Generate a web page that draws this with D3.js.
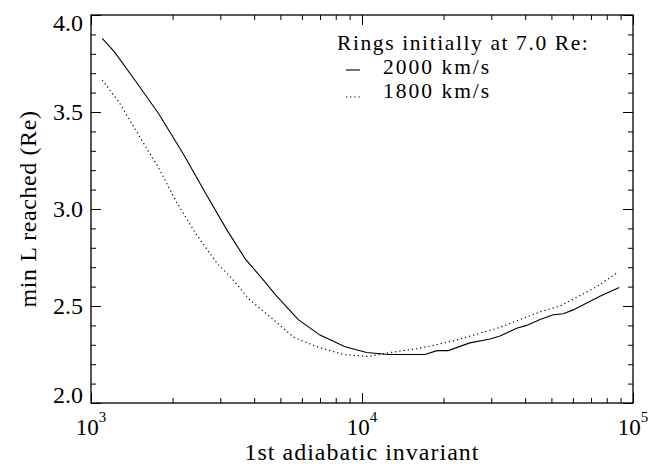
<!DOCTYPE html>
<html>
<head>
<meta charset="utf-8">
<script src="https://cdn.jsdelivr.net/npm/d3@7"></script>
<style>
	body { margin: 0; background: #fff; }
	svg { display: block; }
	text { font-family: 'Liberation Serif', 'Times New Roman', serif; fill: #000; }
</style>
</head>
<body>
<div id="chart"></div>
<script>
// first adiabatic invariant (x) and min L reached, rings starting at 7.0 Re
var mu2000 = [1100, 1220, 1460, 1780, 2200, 2650, 3180, 3720, 4290, 4780, 5820, 7000, 8660, 10400, 12500,
	17100, 18900, 20800, 25000, 29700, 32300, 37200, 40500, 45400, 50800, 55300, 60200, 67500, 75500, 89000];
var minL2000 = [3.88, 3.81, 3.66, 3.49, 3.28, 3.08, 2.89, 2.74, 2.64, 2.56, 2.43, 2.35, 2.29, 2.26, 2.25,
	2.25, 2.27, 2.27, 2.31, 2.33, 2.345, 2.385, 2.40, 2.43, 2.455, 2.46, 2.48, 2.515, 2.55, 2.595];

var mu1800 = [1100, 1270, 1500, 1780, 2050, 2430, 2920, 3320, 3860, 4580, 5580, 6810, 8530, 10550, 12700,
	16800, 22400, 32300, 38300, 45400, 53800, 62000, 73500, 88300];
var minL1800 = [3.665, 3.55, 3.38, 3.21, 3.045, 2.875, 2.72, 2.64, 2.53, 2.445, 2.34, 2.29, 2.25, 2.24, 2.26,
	2.285, 2.325, 2.39, 2.43, 2.47, 2.50, 2.545, 2.60, 2.675];

var xMajor = [1e3, 1e4, 1e5];
var yMajor = [2.0, 2.5, 3.0, 3.5, 4.0];
var legendTitle = 'Rings initially at 7.0 Re:';
var legendItems = ['2000 km/s', '1800 km/s'];

var W = 663, H = 464;
var margin = {left: 91, right: 30, top: 15, bottom: 61};
var width = W - margin.left - margin.right;
var height = H - margin.top - margin.bottom;

var svg = d3.select('#chart').append('svg')
	.attr('width', W)
	.attr('height', H);

var g = svg.append('g')
	.attr('transform', 'translate(' + margin.left + ',' + margin.top + ')');

var x = d3.scaleLog().domain([1e3, 1e5]).range([0, width]);
var y = d3.scaleLinear().domain([2, 4]).range([height, 0]);

// minor ticks: 2..9 in every decade, every 0.1 in L
var xMinor = [];
[1e3, 1e4].forEach(function(dec) {
	for (var k = 2; k <= 9; k++) xMinor.push(k * dec);
});
var yMinor = d3.range(20, 41).map(function(v) { return v / 10; })
	.filter(function(v) { return Math.round(v * 10) % 5 != 0; });

function tickAxis(axis, vals, size, tr) {
	var a = g.append('g')
		.attr('transform', tr)
		.call(axis.tickValues(vals).tickSize(size).tickSizeOuter(0).tickFormat(''));
	a.select('.domain').remove();
	a.selectAll('line').attr('stroke', '#000').attr('stroke-width', 1);
}

// IDL style: ticks point inward on all four sides
tickAxis(d3.axisBottom(x), xMinor, -5, 'translate(0,' + height + ')');
tickAxis(d3.axisBottom(x), xMajor, -10, 'translate(0,' + height + ')');
tickAxis(d3.axisTop(x), xMinor, -5, 'translate(0,0)');
tickAxis(d3.axisTop(x), xMajor, -10, 'translate(0,0)');
tickAxis(d3.axisLeft(y), yMinor, -5, 'translate(0,0)');
tickAxis(d3.axisLeft(y), yMajor, -10, 'translate(0,0)');
tickAxis(d3.axisRight(y), yMinor, -5, 'translate(' + width + ',0)');
tickAxis(d3.axisRight(y), yMajor, -10, 'translate(' + width + ',0)');

g.append('rect')
	.attr('width', width)
	.attr('height', height)
	.attr('fill', 'none')
	.attr('stroke', '#000')
	.attr('stroke-width', 1.3);

// y tick labels (end labels pulled inside the frame like the original)
g.selectAll('.ylab')
	.data(yMajor)
	.enter()
	.append('text')
	.attr('class', 'ylab')
	.attr('x', -8)
	.attr('y', function(d) { return y(d); })
	.attr('dy', function(d) { return d == 4 ? 16 : (d == 2 ? 0 : 8); })
	.attr('text-anchor', 'end')
	.style('font-size', '24px')
	.text(d3.format('.1f'));

// x tick labels as 10^n
var xl = g.selectAll('.xlab')
	.data(xMajor)
	.enter()
	.append('text')
	.attr('class', 'xlab')
	.attr('x', function(d) { return x(d); })
	.attr('y', height + 32)
	.attr('text-anchor', 'middle')
	.style('font-size', '23px');
xl.append('tspan').text('10');
xl.append('tspan')
	.attr('dy', -13)
	.style('font-size', '15px')
	.text(function(d) { return Math.round(Math.log10(d)); });

// axis titles
g.append('text')
	.attr('x', width / 2)
	.attr('y', height + 57)
	.attr('text-anchor', 'middle')
	.style('font-size', '24px')
	.style('letter-spacing', '1px')
	.text('1st adiabatic invariant');

g.append('text')
	.attr('transform', 'translate(' + (36 - margin.left) + ',' + height / 2 + ') rotate(-90)')
	.attr('text-anchor', 'middle')
	.style('font-size', '24px')
	.style('letter-spacing', '0.6px')
	.text('min L reached (Re)');

// curves
var line = d3.line()
	.x(function(d) { return x(d[0]); })
	.y(function(d) { return y(d[1]); });

var solid = d3.zip(mu2000, minL2000);
var dotted = d3.zip(mu1800, minL1800);

g.append('path')
	.datum(solid)
	.attr('d', line)
	.attr('fill', 'none')
	.attr('stroke', '#000')
	.attr('stroke-width', 1.1);

g.append('path')
	.datum(dotted)
	.attr('d', line)
	.attr('fill', 'none')
	.attr('stroke', '#000')
	.attr('stroke-width', 1.2)
	.attr('stroke-dasharray', '1.2,3');

// legend (lines kept just far enough apart so the boxes don't collide)
var lg = svg.append('g');
lg.append('text')
	.attr('x', 337)
	.attr('y', 50)
	.style('font-size', '21.5px')
	.style('letter-spacing', '1.6px')
	.text(legendTitle);

var dashes = [null, '1.2,3'];
var symOff = [4, 1];
legendItems.forEach(function(lbl, i) {
	var by = 74 + i * 24;
	lg.append('line')
		.attr('x1', 346)
		.attr('x2', 360)
		.attr('y1', by - symOff[i])
		.attr('y2', by - symOff[i])
		.attr('stroke', '#000')
		.attr('stroke-width', 1.1)
		.attr('stroke-dasharray', dashes[i]);
	lg.append('text')
		.attr('x', 383)
		.attr('y', by)
		.style('font-size', '21.5px')
		.style('letter-spacing', '2px')
		.text(lbl);
});
</script>
</body>
</html>
